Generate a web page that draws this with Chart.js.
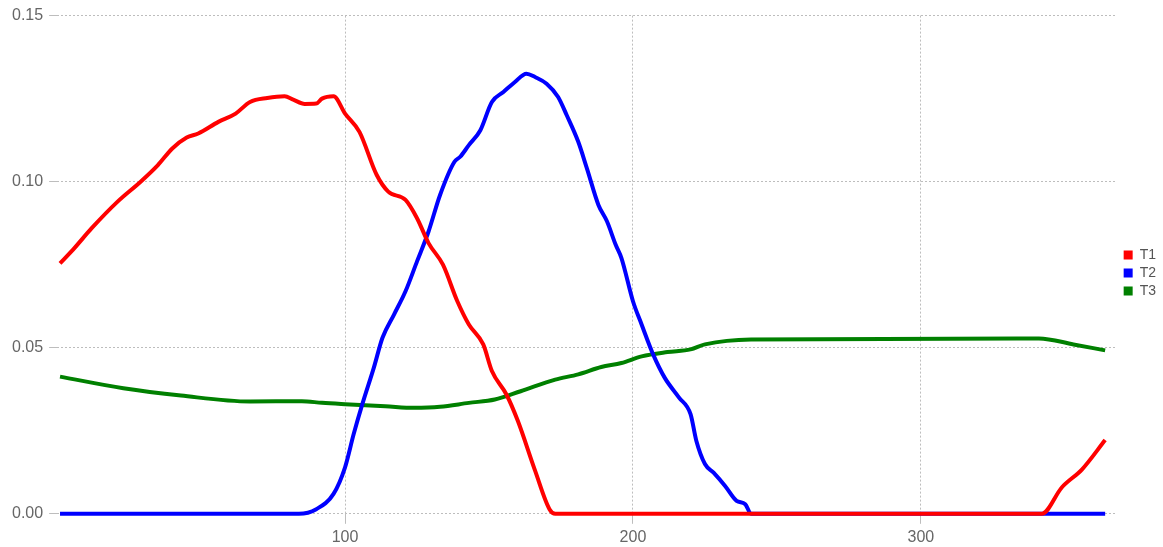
<!DOCTYPE html>
<html>
<head>
<meta charset="utf-8">
<script src="https://cdn.jsdelivr.net/npm/chart.js@4"></script>
<style>
html,body{margin:0;padding:0;background:#fff;}
#wrap{width:1163px;height:547px;position:relative;}
</style>
</head>
<body>
<div id="wrap"><canvas id="c" width="1163" height="547"></canvas></div>
<script>
const seriesNames = ["T1", "T2", "T3"];
const seriesColors = ["#ff0000", "#0000ff", "#008000"];
const xTickValues = [100, 200, 300];
const yTickValues = [0, 0.05, 0.10, 0.15];

const t1Days = [1, 6, 12, 21, 29, 35, 40, 45, 49, 56, 62, 67, 73, 79, 82, 86, 90, 92, 96, 100, 105, 111, 115, 121, 125, 129, 134, 139, 143, 148, 151, 156, 160, 166, 171, 173, 342, 349, 356, 364];
const t1Values = [0.0754, 0.0800, 0.0860, 0.0940, 0.1000, 0.1050, 0.1100, 0.1133, 0.1145, 0.1180, 0.1205, 0.1240, 0.1252, 0.1257, 0.1247, 0.1234, 0.1235, 0.1250, 0.1257, 0.1205, 0.1150, 0.1020, 0.0970, 0.0945, 0.0890, 0.0815, 0.0750, 0.0640, 0.0570, 0.0510, 0.0430, 0.0360, 0.0280, 0.0130, 0.0014, 0, 0, 0.0080, 0.0134, 0.0222];

const t2Days = [1, 84, 90, 96, 100, 103, 106, 110, 113, 117, 121, 125, 129, 133, 138, 140, 143, 147, 151, 155, 159, 163, 166, 170, 174, 177, 181, 184, 188, 191, 194, 196, 200, 203, 207, 211, 216, 220, 222, 225, 228, 232, 236, 239, 241, 364];
const t2Values = [0, 0, 0.0014, 0.0060, 0.0140, 0.0240, 0.0330, 0.0440, 0.0530, 0.0600, 0.0670, 0.0760, 0.0850, 0.0960, 0.1060, 0.1075, 0.1110, 0.1155, 0.1240, 0.1270, 0.1300, 0.1325, 0.1315, 0.1295, 0.1255, 0.1200, 0.1120, 0.1040, 0.0930, 0.0880, 0.0810, 0.0770, 0.0640, 0.0570, 0.0480, 0.0410, 0.0350, 0.0300, 0.0220, 0.0150, 0.0124, 0.0084, 0.0039, 0.0029, 0, 0];

const t3Days = [1, 23, 43, 67, 85, 92, 100, 114, 124, 133, 143, 152, 161, 173, 181, 189, 196, 203, 212, 220, 225, 241, 341, 353, 364];
const t3Values = [0.0413, 0.0378, 0.0356, 0.0338, 0.0339, 0.0334, 0.0330, 0.0324, 0.0319, 0.0322, 0.0334, 0.0344, 0.0369, 0.0404, 0.0420, 0.0442, 0.0454, 0.0474, 0.0487, 0.0495, 0.0510, 0.0525, 0.0528, 0.0510, 0.0492];

const dayLists = [t1Days, t2Days, t3Days];
const valueLists = [t1Values, t2Values, t3Values];

const FONT = "'Liberation Sans', Arial, Helvetica, sans-serif";
const GRID = "#bdbdbd";

const datasets = seriesNames.map((name, i) => ({
  label: name,
  data: dayLists[i].map((d, j) => ({ x: d, y: valueLists[i][j] })),
  borderColor: seriesColors[i],
  backgroundColor: seriesColors[i],
  borderWidth: 4,
  pointRadius: 0,
  pointHoverRadius: 0,
  fill: false,
  cubicInterpolationMode: 'monotone',
  clip: false
}));

const legendShift = {
  id: 'legendShift',
  afterLayout(chart) {
    const lg = chart.legend;
    if (lg) { lg.top -= 6; lg.bottom -= 6; lg.left += 3; lg.right += 3; }
  }
};

new Chart(document.getElementById('c'), {
  type: 'line',
  data: { datasets },
  plugins: [legendShift],
  options: {
    responsive: false,
    animation: false,
    layout: { padding: { left: 6, right: 0, top: 7, bottom: -4 } },
    plugins: {
      tooltip: { enabled: false },
      legend: {
        position: 'right',
        align: 'center',
        labels: {
          boxWidth: 9,
          boxHeight: 9,
          padding: 4,
          color: '#555',
          font: { family: FONT, size: 14 },
          generateLabels: chart => Chart.defaults.plugins.legend.labels.generateLabels(chart).map(l => Object.assign(l, { lineWidth: 0 }))
        }
      }
    },
    scales: {
      x: {
        type: 'linear',
        min: 0,
        max: 368,
        afterBuildTicks: s => { s.ticks = xTickValues.map(v => ({ value: v })); },
        border: { display: false, dash: [2, 2] },
        grid: { color: GRID, lineWidth: 1, tickLength: 10, drawTicks: true, tickColor: GRID },
        ticks: { color: '#666', font: { family: FONT, size: 16 }, padding: 4, maxRotation: 0 }
      },
      y: {
        min: 0,
        max: 0.15,
        afterBuildTicks: s => { s.ticks = yTickValues.map(v => ({ value: v })); },
        border: { display: false, dash: [2, 2] },
        grid: { color: GRID, lineWidth: 1, tickLength: 8, drawTicks: true, tickColor: GRID },
        ticks: { color: '#666', font: { family: FONT, size: 16 }, padding: 6, callback: v => Number(v).toFixed(2) }
      }
    }
  }
});
</script>
</body>
</html>
